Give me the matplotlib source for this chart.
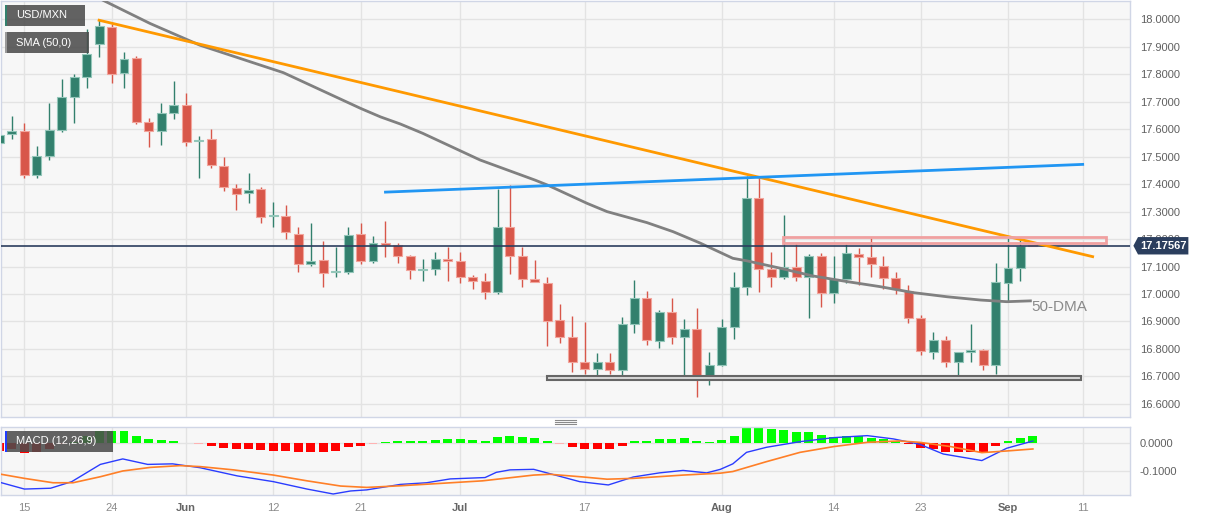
import matplotlib
matplotlib.use('Agg')
import matplotlib.pyplot as plt
import matplotlib.transforms as mtransforms
from matplotlib.patches import Rectangle, Polygon
from matplotlib.lines import Line2D
from matplotlib.ticker import FormatStrFormatter

plt.rcParams['font.family'] = ['Liberation Sans', 'DejaVu Sans']

# USD/MXN daily candles, weekday index 0 = 11 May ... 83 = 5 Sep
opens = [17.551, 17.582, 17.593, 17.433, 17.502, 17.597, 17.718, 17.789, 17.911, 17.973,
         17.803, 17.858, 17.625, 17.595, 17.660, 17.687, 17.556, 17.563, 17.466, 17.385,
         17.367, 17.381, 17.283, 17.284, 17.217, 17.109, 17.124, 17.079, 17.081, 17.217,
         17.120, 17.185, 17.180, 17.138, 17.087, 17.090, 17.126, 17.121, 17.062, 17.047,
         17.006, 17.243, 17.139, 17.055, 17.041, 16.905, 16.842, 16.754, 16.727, 16.751,
         16.722, 16.892, 16.987, 16.830, 16.936, 16.845, 16.872, 16.689, 16.742, 16.880,
         17.025, 17.351, 17.091, 17.063, 17.099, 17.061, 17.138, 17.002, 17.053, 17.144,
         17.136, 17.103, 17.057, 17.012, 16.914, 16.790, 16.833, 16.754, 16.790, 16.796,
         16.742, 17.041, 17.093, 17.1765]
highs = [17.700, 17.647, 17.621, 17.540, 17.694, 17.782, 17.801, 17.964, 17.997, 17.985,
         17.880, 17.866, 17.640, 17.694, 17.775, 17.731, 17.575, 17.600, 17.498, 17.399,
         17.442, 17.388, 17.336, 17.323, 17.245, 17.257, 17.193, 17.172, 17.243, 17.257,
         17.211, 17.266, 17.185, 17.142, 17.126, 17.153, 17.172, 17.154, 17.069, 17.078,
         17.381, 17.397, 17.172, 17.124, 17.063, 16.963, 16.920, 16.899, 16.786, 16.786,
         16.916, 17.051, 17.011, 16.942, 16.987, 16.909, 16.950, 16.788, 16.909, 17.079,
         17.428, 17.428, 17.153, 17.288, 17.185, 17.144, 17.148, 17.138, 17.182, 17.169,
         17.205, 17.138, 17.080, 17.033, 16.924, 16.861, 16.847, 16.790, 16.890, 16.800,
         17.112, 17.205, 17.197, 17.180]
lows = [17.500, 17.563, 17.421, 17.421, 17.488, 17.591, 17.621, 17.749, 17.864, 17.769,
        17.752, 17.618, 17.536, 17.542, 17.636, 17.540, 17.421, 17.458, 17.375, 17.306,
        17.330, 17.260, 17.243, 17.199, 17.079, 17.103, 17.024, 17.061, 17.072, 17.108,
        17.112, 17.136, 17.112, 17.054, 17.047, 17.068, 17.047, 17.039, 17.017, 16.981,
        17.000, 17.072, 17.027, 17.043, 16.811, 16.823, 16.717, 16.709, 16.693, 16.709,
        16.703, 16.859, 16.814, 16.802, 16.818, 16.705, 16.624, 16.669, 16.738, 16.835,
        16.995, 17.008, 17.024, 17.054, 17.048, 16.911, 16.952, 16.966, 17.041, 17.033,
        17.061, 17.017, 16.999, 16.893, 16.778, 16.762, 16.735, 16.691, 16.754, 16.723,
        16.708, 16.975, 17.047, 17.173]
closes = [17.579, 17.593, 17.433, 17.503, 17.597, 17.718, 17.789, 17.873, 17.975, 17.801,
          17.855, 17.627, 17.595, 17.658, 17.687, 17.554, 17.561, 17.470, 17.388, 17.364,
          17.379, 17.281, 17.286, 17.225, 17.108, 17.121, 17.075, 17.083, 17.215, 17.120,
          17.185, 17.180, 17.138, 17.087, 17.091, 17.126, 17.121, 17.062, 17.048, 17.006,
          17.243, 17.139, 17.053, 17.045, 16.903, 16.845, 16.754, 16.727, 16.751, 16.722,
          16.890, 16.987, 16.831, 16.936, 16.845, 16.873, 16.689, 16.742, 16.879, 17.024,
          17.351, 17.091, 17.063, 17.099, 17.061, 17.138, 17.002, 17.053, 17.148, 17.136,
          17.108, 17.057, 17.017, 16.914, 16.793, 16.833, 16.754, 16.790, 16.796, 16.742,
          17.042, 17.093, 17.1757, 17.1757]
last_price = 17.17567

# 50-day SMA, read as (weekday index, value)
sma_idx = [7.0, 8.3, 12.1, 16.1, 22.8, 29.0, 30.6, 32.2, 34.0, 38.6, 43.0, 44.0, 47.2, 48.8,
           52.0, 54.1, 56.3, 58.9, 60.0, 62.7, 65.3, 68.1, 70.7, 73.4, 76.1, 78.8, 80.9, 82.8]
sma_val = [18.100, 18.070, 17.985, 17.906, 17.806, 17.676, 17.645, 17.619, 17.585, 17.488,
           17.415, 17.397, 17.330, 17.300, 17.260, 17.227, 17.185, 17.130, 17.121, 17.094,
           17.066, 17.045, 17.027, 17.005, 16.990, 16.978, 16.972, 16.975]

# drawn studies
down_trend = ([8, 87.8], [17.997, 17.136])
up_trend = ([31, 87], [17.371, 17.472])
resist_zone = (62.9, 88.9, 17.187, 17.209)
support_zone = (44.0, 86.9, 16.687, 16.700)

# MACD (12,26,9)
hist = [-0.028, -0.022, -0.0365, -0.033, -0.022, -0.004, 0.004, 0.028, 0.045, 0.045,
        0.045, 0.028, 0.016, 0.012, 0.010, 0.002, -0.001, -0.0085, -0.016, -0.021,
        -0.021, -0.024, -0.027, -0.027, -0.033, -0.033, -0.033, -0.028, -0.0146, -0.0085,
        -0.002, 0.006, 0.010, 0.0085, 0.0085, 0.0134, 0.0158, 0.0146, 0.0134, 0.0097,
        0.0231, 0.0268, 0.0219, 0.0182, 0.0085, -0.001, -0.0122, -0.0207, -0.0207, -0.0207,
        -0.0085, 0.0085, 0.0085, 0.017, 0.0158, 0.0182, 0.0085, 0.006, 0.012, 0.0268,
        0.057, 0.057, 0.052, 0.0487, 0.0426, 0.040, 0.030, 0.0243, 0.0255, 0.0255,
        0.0207, 0.0146, 0.0073, -0.0036, -0.018, -0.0207, -0.030, -0.030, -0.030, -0.030,
        -0.0097, 0.0073, 0.0207, 0.028]
macd_idx = [0.0, 2.0, 4.1, 5.8, 8.1, 9.9, 11.9, 13.9, 16.1, 19.1, 22.0, 24.7, 26.8, 28.2,
            29.5, 32.2, 34.3, 36.2, 39.0, 39.9, 41.0, 42.9, 44.8, 46.6, 48.9, 50.9, 53.0,
            54.9, 56.8, 57.9, 58.9, 60.0, 61.6, 64.3, 67.0, 69.7, 71.8, 73.9, 75.8, 78.9,
            80.9, 83.0]
macd_val = [-0.142, -0.167, -0.164, -0.140, -0.077, -0.057, -0.077, -0.075, -0.089, -0.119,
            -0.140, -0.167, -0.185, -0.174, -0.170, -0.150, -0.144, -0.130, -0.125, -0.106,
            -0.097, -0.095, -0.118, -0.140, -0.152, -0.123, -0.108, -0.099, -0.108, -0.095,
            -0.075, -0.033, -0.0146, 0.006, 0.0207, 0.028, 0.016, -0.0036, -0.039, -0.063,
            -0.018, 0.0085]
sig_idx = [0.0, 2.0, 4.3, 5.9, 8.1, 9.9, 12.1, 14.5, 16.1, 18.8, 22.0, 24.7, 27.4, 29.5,
           32.2, 34.8, 38.8, 42.9, 44.2, 46.9, 48.8, 50.9, 54.9, 57.9, 58.9, 61.6, 64.3,
           67.0, 69.7, 72.3, 73.9, 76.4, 78.9, 80.9, 83.0]
sig_val = [-0.112, -0.128, -0.144, -0.144, -0.122, -0.101, -0.088, -0.0815, -0.085, -0.097,
           -0.116, -0.137, -0.156, -0.161, -0.155, -0.148, -0.137, -0.116, -0.113, -0.123,
           -0.131, -0.128, -0.116, -0.109, -0.103, -0.067, -0.033, -0.012, 0.0036, 0.0085,
           0.0036, -0.012, -0.034, -0.028, -0.0207]

tick_idx = [2, 9, 15, 22, 29, 37, 47, 58, 67, 74, 81, 87]
tick_lbl = ['15', '24', 'Jun', '12', '21', 'Jul', '17', 'Aug', '14', '23', 'Sep', '11']
months = ['Jun', 'Jul', 'Aug', 'Sep']

W, H = 1207, 521
fig = plt.figure(figsize=(W / 100, H / 100), dpi=100)
fig.patch.set_facecolor('white')

ax = fig.add_axes([1 / W, 1 - 417.3 / H, 1129 / W, 416.3 / H])
ax2 = fig.add_axes([1 / W, 1 - 495 / H, 1129 / W, 68.3 / H])

up_c, dn_c = '#32806d', '#d8574a'
up_e, dn_e = '#93c6b9', '#f2a59c'
border = '#d0d6e6'

for a in (ax, ax2):
    a.set_facecolor('#f7f7f7')
    a.set_xlim(0.12, 90.8)
    a.set_xticks(tick_idx)
    a.grid(True, color='#e3e3e3', lw=1)
    a.set_axisbelow(True)
    a.yaxis.tick_right()
    a.tick_params(axis='both', length=0, labelsize=8, labelcolor='#606060')
    a.tick_params(axis='y', pad=7)
    for s in a.spines.values():
        s.set_color(border)
        s.set_linewidth(1)

# candles
x = list(range(len(opens)))
for i in x:
    o, h, l, c = opens[i], highs[i], lows[i], closes[i]
    up = c >= o
    col = up_c if up else dn_c
    ax.vlines(i, l, h, color=col, lw=1, zorder=2)
    ax.bar(i, max(abs(c - o), 0.004), bottom=min(o, c), width=0.72,
           color=col, edgecolor=up_e if up else dn_e, linewidth=0.8, zorder=3)

ax.set_ylim(16.551, 18.067)
ax.set_yticks([16.6 + 0.1 * k for k in range(15)])
ax.yaxis.set_major_formatter(FormatStrFormatter('%.4f'))
ax.tick_params(axis='x', labelbottom=False)

ax.plot(sma_idx, sma_val, color='#808080', lw=2, zorder=4)
ax.plot(*down_trend, color='#ff9900', lw=2, zorder=5)
ax.plot(*up_trend, color='#2196f3', lw=2, zorder=5)
ax.axhline(last_price, color='#2b3e5e', lw=1.2, zorder=4)

x0, x1, y0, y1 = resist_zone
ax.add_patch(Rectangle((x0, y0), x1 - x0, y1 - y0, fc='none', ec='#f0a0a0', lw=2, zorder=6))
x0, x1, y0, y1 = support_zone
ax.add_patch(Rectangle((x0, y0), x1 - x0, y1 - y0, fc='#d8d8d8', ec='#666666', lw=1.5, zorder=6))

ax.text(82.9, 16.953, '50-DMA', color='#8a8a8a', fontsize=11, va='center', ha='left', zorder=7)

# last price tag
tr = mtransforms.blended_transform_factory(ax.transAxes, ax.transData)
hh = 0.0317
tag = Polygon([(1.0030, last_price), (1.0071, last_price + hh), (1.0517, last_price + hh),
               (1.0517, last_price - hh), (1.0071, last_price - hh)],
              closed=True, transform=tr, fc='#2b3e5e', ec='none', clip_on=False, zorder=10)
ax.add_patch(tag)
ax.text(1.0294, last_price, '%.5f' % last_price, transform=tr, color='white', fontsize=8,
        fontweight='bold', ha='center', va='center', clip_on=False, zorder=11)

# MACD panel
hcol = []
for v in hist:
    if abs(v) < 0.0025:
        hcol.append('#9dfc9d' if v > 0 else '#ffb3b3')
    else:
        hcol.append('#00ff00' if v > 0 else '#ff0000')
ax2.bar(range(len(hist)), hist, width=0.72, color=hcol, zorder=2)
ax2.plot(macd_idx, macd_val, color='#2a3cff', lw=1, zorder=3)
ax2.plot(sig_idx, sig_val, color='#ff7f27', lw=1.2, zorder=3)
ax2.set_ylim(-0.1887, 0.0606)
ax2.set_yticks([0.0, -0.1])
ax2.yaxis.set_major_formatter(FormatStrFormatter('%.4f'))
ax2.set_xticklabels(tick_lbl)
ax2.tick_params(axis='x', pad=6, labelcolor='#8a8a8a')
for t in ax2.get_xticklabels():
    if t.get_text() in months:
        t.set_fontweight('bold')
        t.set_color('#666666')


# legend boxes (pixel positions)
def label_box(px0, py0, px1, py1, bar_col, text):
    fig.add_artist(Rectangle((px0 / W, 1 - py1 / H), (px1 - px0) / W, (py1 - py0) / H,
                             transform=fig.transFigure, fc='#4d4d4d', alpha=0.88, ec='none', zorder=20))
    fig.add_artist(Rectangle((px0 / W, 1 - py1 / H), 2 / W, (py1 - py0) / H,
                             transform=fig.transFigure, fc=bar_col, ec='none', zorder=21))
    fig.text((px0 + 11) / W, 1 - (py0 + py1) / 2 / H, text, color='white', fontsize=8,
             va='center', ha='left', zorder=22)


label_box(5, 5, 85, 25.7, up_c, 'USD/MXN')
label_box(5, 32.3, 89, 52.7, '#9a9a9a', 'SMA (50,0)')
label_box(5, 431, 113, 451.7, '#1f3cff', 'MACD (12,26,9)')

# panel resize handle
for yy in (420, 422, 424):
    fig.add_artist(Line2D([555 / W, 576 / W], [1 - yy / H, 1 - yy / H],
                          transform=fig.transFigure, color='#8a8a8a', lw=0.8))

fig.savefig('out.png', dpi=100, facecolor='white')
